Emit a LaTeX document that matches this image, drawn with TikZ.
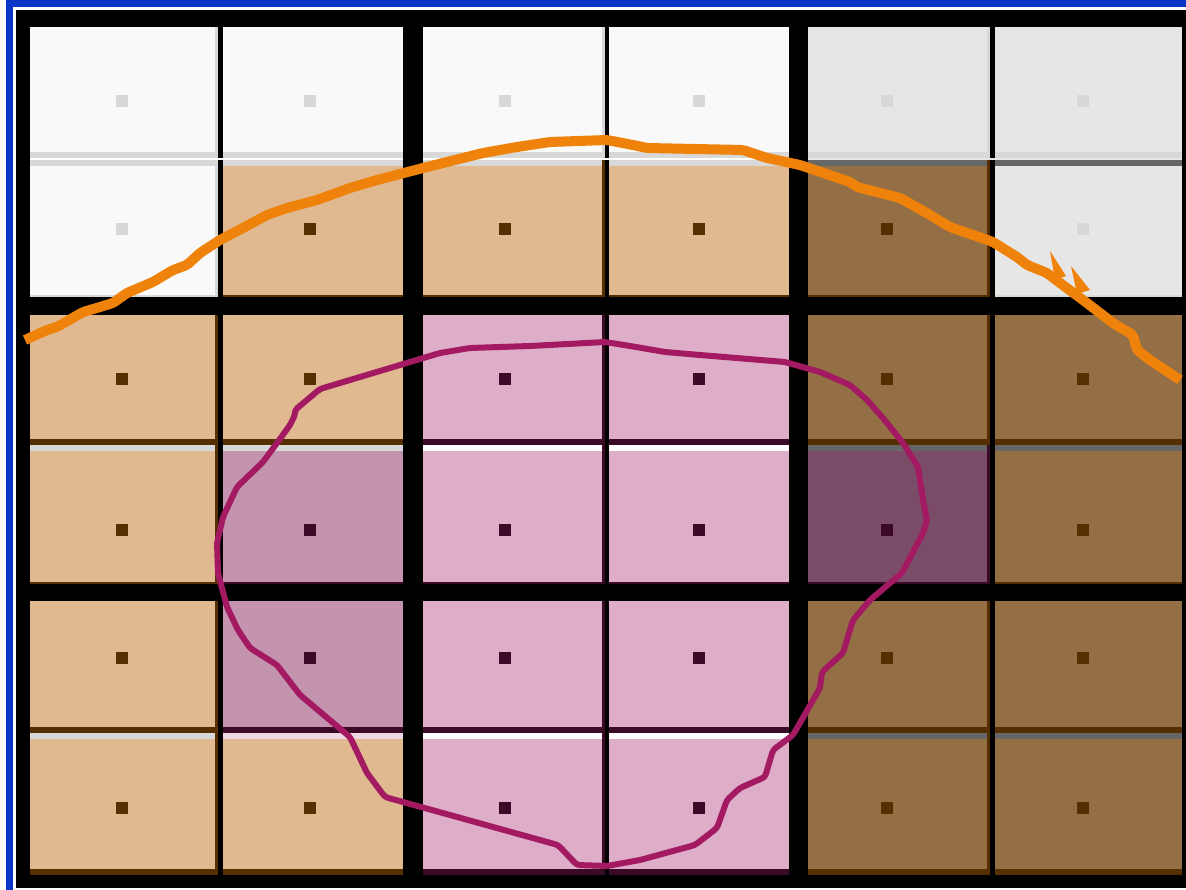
\documentclass[tikz,border=0pt]{standalone}
\usepackage{xcolor}
\definecolor{blueframe}{HTML}{0A36C8}
\definecolor{cW}{HTML}{F9F9F9}
\definecolor{cG}{HTML}{E6E6E6}
\definecolor{cT}{HTML}{E0B990}
\definecolor{cB}{HTML}{946F45}
\definecolor{cP}{HTML}{DEAEC8}
\definecolor{cM}{HTML}{C494AF}
\definecolor{cD}{HTML}{7B4C68}
\definecolor{dL}{HTML}{D8D8D8}
\definecolor{dB}{HTML}{552F00}
\definecolor{dP}{HTML}{3A0A26}
\definecolor{sG}{HTML}{666666}
\definecolor{sR}{HTML}{EED8E4}
\definecolor{orangeline}{HTML}{EE820A}
\definecolor{magentaline}{HTML}{A31A62}
\def\colL{{30,223,423,609,808,995}}
\def\colR{{218,403,605,789,990,1182}}
\def\colC{{122,310,505,699,887,1083}}
\def\rowT{{27,160,315,445,601,733}}
\def\rowB{{158,297,445,584,733,875}}
\def\rowC{{101,229,379,530,658,808}}
\newcommand\gcell[5]{%
  \pgfmathsetmacro\xa{\colL[#1]}%
  \pgfmathsetmacro\xb{\colR[#1]}%
  \pgfmathsetmacro\ya{\rowT[#2]}%
  \pgfmathsetmacro\yb{\rowB[#2]}%
  \pgfmathsetmacro\cx{\colC[#1]}%
  \pgfmathsetmacro\cy{\rowC[#2]}%
  \pgfmathsetmacro\bh{((#2==1)||(#2==3))?2:6}%
  \fill[#3] (\xa,\ya) rectangle (\xb,\yb);
  \ifodd#2 \fill[#5] (\xa,\ya) rectangle (\xb,{\ya+6});\fi
  \fill[#4] (\xa,{\yb-\bh}) rectangle (\xb,\yb);
  \ifodd#1 \else \fill[#4] ({\xb-3},\ya) rectangle (\xb,\yb);\fi
  \fill[#4] ({\cx-6},{\cy-6}) rectangle ({\cx+6},{\cy+6});
}
\begin{document}
\begin{tikzpicture}[x=1pt,y=-1pt,
  curveline/.style={line width=#1,line join=round,line cap=butt,rounded corners=3pt}]
\useasboundingbox (0,0) rectangle (1186,890);
\fill[white] (0,0) rectangle (1186,890);
\draw[blueframe,line width=7pt] (9.5,890) -- (9.5,3.5) -- (1186,3.5);
\fill[black] (16,10) rectangle (1186,888);
% gaps between rows 1 and 2
\fill[white] (30,158) rectangle (403,160);
\fill[white] (423,158) rectangle (789,160);
\fill[cG] (808,158) rectangle (1182,160);
% row 0
\gcell{0}{0}{cW}{dL}{cW}
\gcell{1}{0}{cW}{dL}{cW}
\gcell{2}{0}{cW}{dL}{cW}
\gcell{3}{0}{cW}{dL}{cW}
\gcell{4}{0}{cG}{dL}{cG}
\gcell{5}{0}{cG}{dL}{cG}
% row 1
\gcell{0}{1}{cW}{dL}{dL}
\gcell{1}{1}{cT}{dB}{dL}
\gcell{2}{1}{cT}{dB}{dL}
\gcell{3}{1}{cT}{dB}{dL}
\gcell{4}{1}{cB}{dB}{sG}
\gcell{5}{1}{cG}{dL}{sG}
% row 2
\gcell{0}{2}{cT}{dB}{cT}
\gcell{1}{2}{cT}{dB}{cT}
\gcell{2}{2}{cP}{dP}{cP}
\gcell{3}{2}{cP}{dP}{cP}
\gcell{4}{2}{cB}{dB}{cB}
\gcell{5}{2}{cB}{dB}{cB}
% row 3
\gcell{0}{3}{cT}{dB}{dL}
\gcell{1}{3}{cM}{dP}{dL}
\gcell{2}{3}{cP}{dP}{white}
\gcell{3}{3}{cP}{dP}{white}
\gcell{4}{3}{cD}{dP}{sG}
\gcell{5}{3}{cB}{dB}{sG}
% row 4
\gcell{0}{4}{cT}{dB}{cT}
\gcell{1}{4}{cM}{dP}{cM}
\gcell{2}{4}{cP}{dP}{cP}
\gcell{3}{4}{cP}{dP}{cP}
\gcell{4}{4}{cB}{dB}{cB}
\gcell{5}{4}{cB}{dB}{cB}
% row 5
\gcell{0}{5}{cT}{dB}{dL}
\gcell{1}{5}{cT}{dB}{sR}
\gcell{2}{5}{cP}{dP}{white}
\gcell{3}{5}{cP}{dP}{white}
\gcell{4}{5}{cB}{dB}{sG}
\gcell{5}{5}{cB}{dB}{sG}
% orange curve
\draw[orangeline,curveline=10pt] (25,340) -- (47,330) -- (57,327) -- (83,312) -- (100,307)
  -- (113,303) -- (127,293) -- (153,282) -- (173,270) -- (187,265) -- (200,253)
  -- (220,240) -- (243,228) -- (267,215) -- (287,208) -- (317,200) -- (350,188)
  -- (377,180) -- (423,168) -- (483,153) -- (517,147) -- (550,142) -- (607,140)
  -- (633,145) -- (647,148) -- (743,150) -- (767,158) -- (800,165) -- (850,182)
  -- (857,187) -- (900,198) -- (925,212) -- (950,227) -- (973,235) -- (993,242)
  -- (1017,257) -- (1027,265) -- (1047,273) -- (1060,283) -- (1083,300)
  -- (1100,313) -- (1113,323) -- (1133,335) -- (1137,350) -- (1150,360) -- (1180,380);
\fill[orangeline] (1050,251) -- (1066,276) -- (1055,280) -- cycle;
\fill[orangeline] (1071,266) -- (1090,290) -- (1077,294) -- cycle;
% magenta loop
\draw[magentaline,curveline=6pt] (295,410) -- (320,389) -- (400,365) -- (440,353)
  -- (470,348) -- (530,346) -- (605,342) -- (630,346) -- (665,352) -- (700,355)
  -- (785,362) -- (820,372) -- (850,385) -- (867,400) -- (883,418) -- (903,443)
  -- (918,467) -- (923,500) -- (927,520) -- (923,533) -- (902,573) -- (870,600)
  -- (853,620) -- (843,653) -- (822,672) -- (820,688) -- (793,735) -- (773,750)
  -- (765,777) -- (740,788) -- (727,800) -- (717,828) -- (695,845) -- (640,860)
  -- (607,866) -- (577,865) -- (558,845) -- (385,797) -- (367,773) -- (350,737)
  -- (300,695) -- (277,665) -- (250,648) -- (238,630) -- (227,607) -- (218,573)
  -- (217,543) -- (223,517) -- (237,487) -- (263,462) -- (277,443) -- (290,425)
  -- (295,415) -- cycle;
\end{tikzpicture}
\end{document}
